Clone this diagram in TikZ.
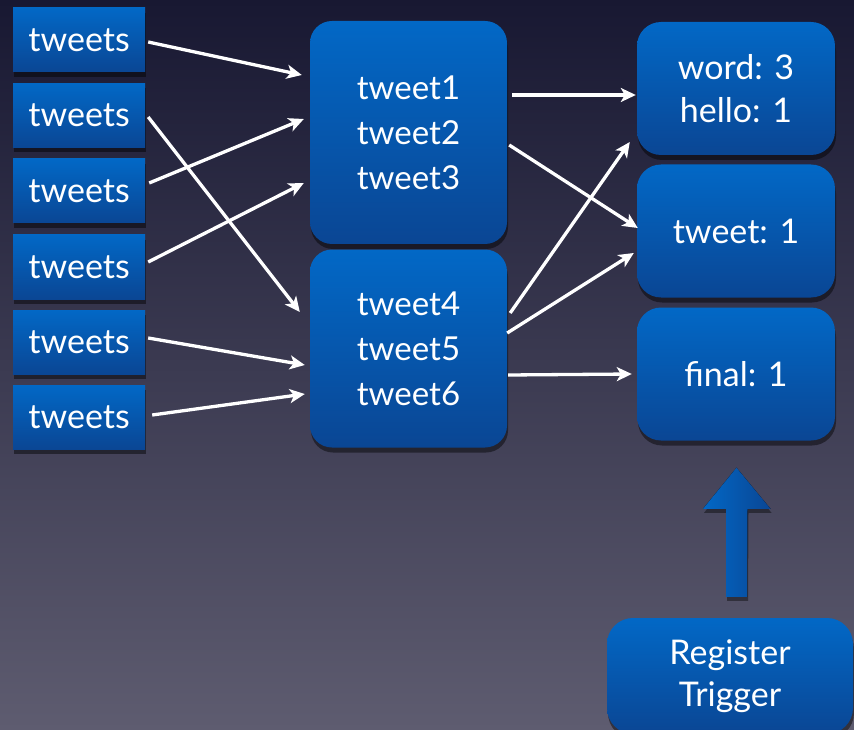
\documentclass[tikz,border=0pt]{standalone}
\usepackage{fontspec}
\setmainfont{Lato}
\usetikzlibrary{arrows.meta,calc,shadows}

\definecolor{bgtop}{RGB}{24,24,50}
\definecolor{bgbot}{RGB}{94,92,112}
\definecolor{boxtop}{RGB}{2,104,198}
\definecolor{boxbot}{RGB}{10,70,148}

\tikzset{
  boxbase/.style={top color=boxtop, bottom color=boxbot, draw=none,
    text=white, align=center, inner sep=0pt,
    drop shadow={shadow xshift=1pt, shadow yshift=-5pt, opacity=0.45, fill=black}},
  srcbox/.style={boxbase, minimum width=132pt, minimum height=64pt,
    font=\fontsize{34}{38}\selectfont},
  grpbox/.style={boxbase, rounded corners=22pt, minimum width=197pt,
    font=\fontsize{33}{45}\selectfont},
  cntbox/.style={boxbase, rounded corners=24pt, minimum width=198pt, minimum height=133pt,
    font=\fontsize{34}{43}\selectfont},
  flow/.style={draw=white, line width=3.3pt,
    -{Stealth[length=15pt,width=14pt,inset=4pt]}}
}

\begin{document}
\begin{tikzpicture}[x=1pt,y=-1pt]
  % backdrop
  \fill[top color=bgtop, bottom color=bgbot] (0,0) rectangle (854,730);
  \useasboundingbox (0,0) rectangle (854,730);

  % input streams
  \node[srcbox] (t1) at (79,40)    {tweets};
  \node[srcbox] (t2) at (79,115.5) {tweets};
  \node[srcbox] (t3) at (79,191)   {tweets};
  \node[srcbox] (t4) at (79,267)   {tweets};
  \node[srcbox] (t5) at (79,342)   {tweets};
  \node[srcbox] (t6) at (79,417)   {tweets};

  % grouped batches
  \node[grpbox, minimum height=223pt] (ga) at (408.5,132.5) {tweet1\\tweet2\\tweet3};
  \node[grpbox, minimum height=198pt] (gb) at (408.5,348.5) {tweet4\\tweet5\\tweet6};

  % counters
  \node[cntbox] (c1) at (736,88.5) {word: 3\\hello: 1};
  \node[cntbox] (c2) at (736,231)  {tweet: 1};
  \node[cntbox] (c3) at (736,374)  {final: 1};

  % trigger registration
  \node[boxbase, rounded corners=26pt, minimum width=246pt, minimum height=116pt,
        font=\fontsize{34}{42}\selectfont] (reg) at (730,676)
        {Register\\Trigger};

  % block arrow from trigger up to the final counter
  \coordinate (tipbase) at ($(reg.north)+(6.5,-21)$);
  \fill[left color=boxtop, right color=boxbot,
        drop shadow={shadow xshift=1pt, shadow yshift=-4pt, opacity=0.4, fill=black}]
    ($(tipbase)+(-10.5,0)$) -- ++(0,-88) -- ++(-23,0) -- ($(c3.south)+(0.5,27)$)
    -- ($(tipbase)+(34,-88)$) -- ++(-23,0) -- ($(tipbase)+(10.5,0)$) -- cycle;

  % streams into batches
  \draw[flow] ($(t1.east)+(3,2)$)    -- ($(ga.west)+(-8,-57.5)$);
  \draw[flow] ($(t2.east)+(3,1.5)$)  -- ($(gb.west)+(-10,-36.5)$);
  \draw[flow] ($(t3.east)+(4,-8)$)   -- ($(ga.west)+(-6,-13.5)$);
  \draw[flow] ($(t4.east)+(3,-5)$)   -- ($(ga.west)+(-6,50.5)$);
  \draw[flow] ($(t5.east)+(3,-4)$)   -- ($(gb.west)+(-5,16.5)$);
  \draw[flow] ($(t6.east)+(7,-2)$)   -- ($(gb.west)+(-5,45.5)$);

  % batches into counters
  \draw[flow] ($(ga.east)+(5,-37.5)$) -- ($(c1.west)+(-1,6.5)$);
  \draw[flow] ($(ga.east)+(2,12.5)$)  -- ($(c2.west)+(1,-3)$);
  \draw[flow] ($(gb.east)+(3,-35.5)$) -- ($(c1.west)+(-7,53.5)$);
  \draw[flow] ($(gb.east)+(0,-15.5)$) -- ($(c2.west)+(-3,22)$);
  \draw[flow] ($(gb.east)+(1,26.5)$)  -- ($(c3.west)+(-5,0)$);
\end{tikzpicture}
\end{document}
